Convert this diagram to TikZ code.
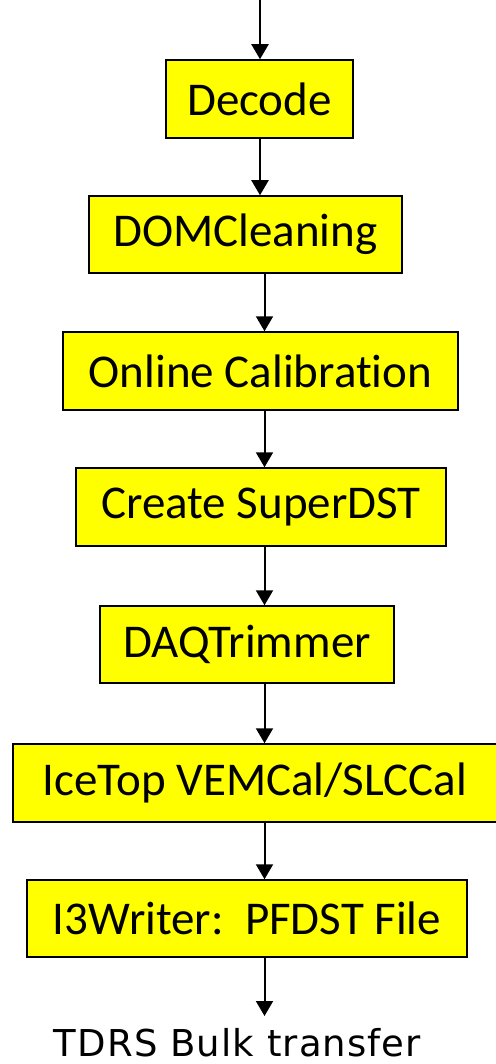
\documentclass[tikz,border=0pt]{standalone}
\usepackage{fontspec}
\setmainfont[Ligatures=NoCommon,RawFeature={-liga;-clig;-dlig}]{Carlito}
\newfontfamily\labelfont[LetterSpace=3]{DejaVu Sans}
\usetikzlibrary{arrows.meta}
\definecolor{boxyellow}{RGB}{255,255,0}
\tikzset{
  stepbox/.style={draw=black, line width=1.5pt, fill=boxyellow, inner sep=0pt,
    font=\fontsize{47}{50}\selectfont, anchor=center},
  flow/.style={line width=2pt, -{Triangle[length=15pt,width=17pt]}}
}
\begin{document}
\begin{tikzpicture}[x=1pt,y=-1pt]
\useasboundingbox (0,0) rectangle (495,1064);
\node[stepbox, minimum width=187pt, minimum height=78pt] (dec) at (259.5,99) {Decode};
\node[stepbox, minimum width=313pt, minimum height=77pt] (dom) at (245.5,234.5) {DOMCleaning};
\node[stepbox, minimum width=395pt, minimum height=78pt] (cal) at (260.5,371) {Online Calibration};
\node[stepbox, minimum width=370pt, minimum height=78pt] (sdst) at (261,507) {Create SuperDST};
\node[stepbox, minimum width=294pt, minimum height=77pt] (daq) at (247,644.5) {DAQTrimmer};
\node[stepbox, minimum width=484pt, minimum height=78pt] (ice) at (255,783) {IceTop VEMCal/SLCCal};
\node[stepbox, minimum width=440pt, minimum height=77pt] (wri) at (247,918.5) {I3Writer:\ \ PFDST File};
\node[font=\labelfont\fontsize{37}{39}\selectfont, anchor=base, inner sep=0pt] (tdrs) at (237.5,1056) {TDRS Bulk transfer};
\coordinate (ax) at (260,0);
\coordinate (bx) at (264.5,0);
\coordinate (endpt) at (264.5,1016);
\draw[flow] (ax) -- (dec.north -| ax);
\draw[flow] (dec.south -| ax) -- (dom.north -| ax);
\draw[flow] (dom.south -| bx) -- (cal.north -| bx);
\draw[flow] (cal.south -| bx) -- (sdst.north -| bx);
\draw[flow] (sdst.south -| bx) -- (daq.north -| bx);
\draw[flow] (daq.south -| bx) -- (ice.north -| bx);
\draw[flow] (ice.south -| bx) -- (wri.north -| bx);
\draw[flow] (wri.south -| bx) -- (endpt);
\end{tikzpicture}
\end{document}
